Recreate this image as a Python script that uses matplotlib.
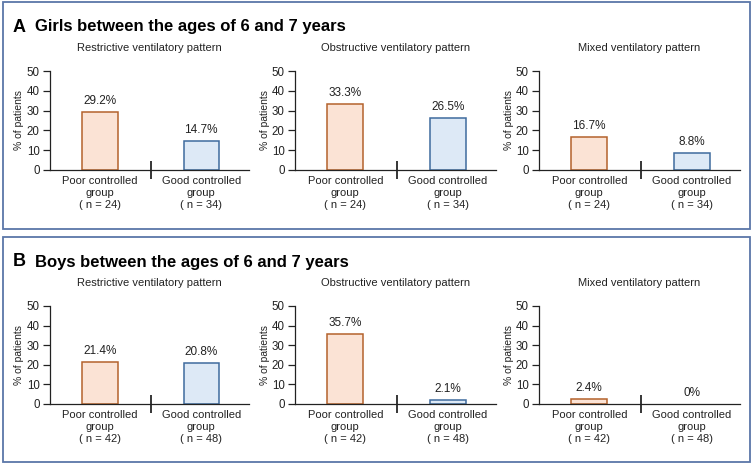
import matplotlib
matplotlib.use("Agg")
import matplotlib.pyplot as plt
from matplotlib.patches import Rectangle

plt.rcParams["font.family"] = ["Liberation Sans", "DejaVu Sans"]

W, H = 753, 467

patterns = ["Restrictive ventilatory pattern",
            "Obstructive ventilatory pattern",
            "Mixed ventilatory pattern"]
groups = ["Poor controlled", "Good controlled"]

panel_titles = ["Girls between the ages of 6 and 7 years",
                "Boys between the ages of 6 and 7 years"]
panel_letters = ["A", "B"]
n_girls = [24, 34]
n_boys = [42, 48]

girls_pct = [[29.2, 14.7], [33.3, 26.5], [16.7, 8.8]]
boys_pct = [[21.4, 20.8], [35.7, 2.1], [2.4, 0.0]]
girls_lbl = [["29.2%", "14.7%"], ["33.3%", "26.5%"], ["16.7%", "8.8%"]]
boys_lbl = [["21.4%", "20.8%"], ["35.7%", "2.1%"], ["2.4%", "0%"]]

yticks = [0, 10, 20, 30, 40, 50]

FILL = ["#fbe3d5", "#dde9f6"]
EDGE = ["#b4622c", "#3f6b9e"]
BORDER = "#5a76a8"
INK = "#222222"


def px_axes(fig, x0, y_top, x1, y_bot):
    return fig.add_axes([x0 / W, 1 - y_bot / H, (x1 - x0) / W, (y_bot - y_top) / H])


def draw_panel(fig, box, letter, title, pct, lbls, ns, ytop, ybot, ysub):
    bx0, by0, bx1, by1 = box
    fig.patches.append(Rectangle((bx0 / W, 1 - by1 / H), (bx1 - bx0) / W, (by1 - by0) / H,
                                 transform=fig.transFigure, fill=False,
                                 edgecolor=BORDER, linewidth=1.3))
    ty = by0 + 25
    fig.text(13 / W, 1 - ty / H, letter, fontsize=13, fontweight="bold", va="center")
    fig.text(35 / W, 1 - ty / H, title, fontsize=12, fontweight="bold", va="center")

    xlabels = [f"{g}\ngroup\n( n = {n})" for g, n in zip(groups, ns)]
    for k, (x0, x1) in enumerate([(50, 249), (295, 496), (539, 740)]):
        ax = px_axes(fig, x0, ytop, x1, ybot)
        bars = ax.bar([0, 1], pct[k], width=0.35, color=FILL, edgecolor=EDGE, linewidth=1.1)
        for b, t in zip(bars, lbls[k]):
            if b.get_height() == 0:
                b.set_edgecolor("none")
                b.set_facecolor("none")
            ax.annotate(t, (b.get_x() + b.get_width() / 2, b.get_height()),
                        xytext=(0, 3.5), textcoords="offset points",
                        ha="center", va="bottom", fontsize=8.5, color=INK)
        ax.set_xlim(-0.49, 1.47)
        ax.set_ylim(0, 50)
        ax.set_yticks(yticks)
        ax.set_xticks([0, 1])
        ax.set_xticklabels(xlabels, fontsize=8, linespacing=1.25, color=INK)
        ax.set_xticks([0.5], minor=True)
        ax.tick_params(axis="x", which="major", length=0, pad=4)
        ax.tick_params(axis="x", which="minor", direction="inout", length=13, width=1.1)
        ax.tick_params(axis="y", length=5, width=0.9, labelsize=8.3, pad=2.5, colors=INK)
        for s in ["top", "right"]:
            ax.spines[s].set_visible(False)
        for s in ["left", "bottom"]:
            ax.spines[s].set_linewidth(0.9)
            ax.spines[s].set_color(INK)
        ax.set_ylabel("% of patients", fontsize=7.5, labelpad=1.5, color=INK)
        fig.text((x0 + x1) / 2 / W, 1 - ysub / H, patterns[k], fontsize=8,
                 ha="center", va="center", color=INK)


fig = plt.figure(figsize=(W / 100, H / 100), dpi=100)
draw_panel(fig, (3, 2, 750, 229), panel_letters[0], panel_titles[0],
           girls_pct, girls_lbl, n_girls, 71, 170, 48)
draw_panel(fig, (3, 237, 750, 462), panel_letters[1], panel_titles[1],
           boys_pct, boys_lbl, n_boys, 306, 404, 283)
fig.savefig("out.png", dpi=100)
